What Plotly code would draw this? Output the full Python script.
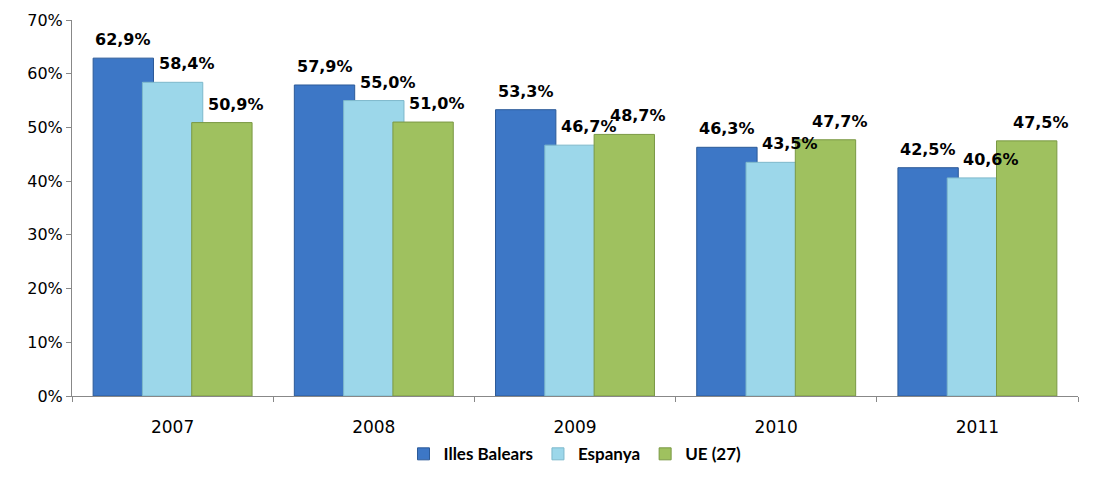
import plotly.graph_objects as go

years = ["2007", "2008", "2009", "2010", "2011"]
illes_balears = [62.9, 57.9, 53.3, 46.3, 42.5]
espanya = [58.4, 55.0, 46.7, 43.5, 40.6]
ue27 = [50.9, 51.0, 48.7, 47.7, 47.5]

BAR_W = 0.3
series = [
    ("Illes Balears", illes_balears, "#3D77C6", "#2C5A98", -0.395, 0.0),
    ("Espanya", espanya, "#9CD7EA", "#7DB8CB", -0.15, 0.07),
    ("UE (27)", ue27, "#9FC15F", "#7A9844", 0.095, 0.07),
]

fig = go.Figure()
annotations = []
for name, vals, col, lcol, off, dx in series:
    fig.add_trace(go.Bar(
        x=years, y=vals, name=name,
        marker=dict(color=col, line=dict(color=lcol, width=1)),
        width=BAR_W, offset=off, hoverinfo="skip",
    ))
    for i, v in enumerate(vals):
        annotations.append(dict(
            x=i + off + BAR_W / 2 + dx, y=v, xref="x", yref="y",
            text=f"{v:.1f}%".replace(".", ","), showarrow=False,
            yanchor="bottom", yshift=7,
            font=dict(family="DejaVu Sans", size=16, color="black", weight="bold"),
        ))

fig.update_layout(
    width=1105, height=484,
    margin=dict(l=72, r=27, t=20, b=82),
    paper_bgcolor="white", plot_bgcolor="white",
    barmode="overlay",
    showlegend=True,
    legend=dict(orientation="h", x=0.5, xanchor="center", y=-0.155, yanchor="middle",
                font=dict(family="Lato", size=17, color="black", weight="bold"),
                itemwidth=30, traceorder="normal"),
    annotations=annotations,
)
fig.update_yaxes(range=[0, 70], dtick=10, ticksuffix="%", showgrid=False,
                 showline=True, linecolor="#888888", linewidth=1,
                 ticks="outside", ticklen=5, tickcolor="#888888",
                 tickfont=dict(family="DejaVu Sans", size=16, color="black"),
                 zeroline=False, automargin=False)
fig.update_xaxes(showline=True, linecolor="#888888", linewidth=1,
                 ticks="outside", ticklen=5, tickcolor="#888888", tickson="boundaries",
                 tickfont=dict(family="DejaVu Sans", size=17, color="black"),
                 ticklabelstandoff=16, automargin=False)

fig.write_html(
    "out.html",
    config={"displayModeBar": False},
    post_script="document.body.style.margin='0';document.body.style.overflow='hidden';",
)
